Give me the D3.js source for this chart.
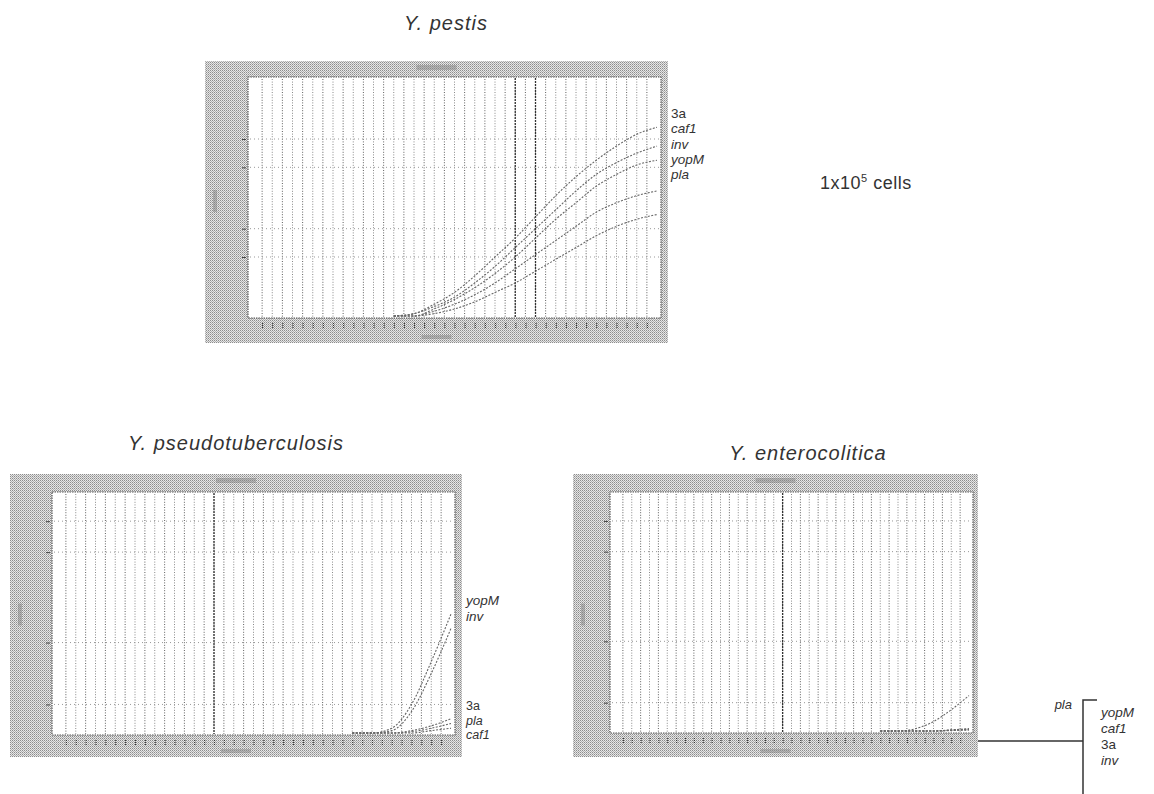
<!DOCTYPE html>
<html>
<head>
<meta charset="utf-8">
<script src="https://cdn.jsdelivr.net/npm/d3@7"></script>
<style>
  body { margin: 0; background: #fff; }
  text { font-family: "Liberation Sans", Arial, sans-serif; fill: #333; }
</style>
</head>
<body>
<svg id="chart" width="1154" height="794"></svg>
<script>
// ---- data (fluorescence, arbitrary 0..1, vs PCR cycle) ----
var pestisCycles = [14, 16, 18, 20, 22, 24, 26, 28, 30, 32, 34, 36, 38, 40];
var pestis3a   = [0, 0.01, 0.05, 0.10, 0.17, 0.25, 0.33, 0.42, 0.51, 0.59, 0.66, 0.72, 0.77, 0.80];
var pestisCaf1 = [0, 0.01, 0.04, 0.08, 0.14, 0.21, 0.29, 0.37, 0.45, 0.53, 0.60, 0.65, 0.69, 0.72];
var pestisInv  = [0, 0.00, 0.03, 0.07, 0.12, 0.18, 0.25, 0.33, 0.41, 0.48, 0.55, 0.60, 0.64, 0.66];
var pestisYopM = [0, 0.00, 0.02, 0.05, 0.09, 0.14, 0.20, 0.26, 0.32, 0.38, 0.44, 0.48, 0.51, 0.53];
var pestisPla  = [0, 0.00, 0.01, 0.03, 0.06, 0.10, 0.14, 0.19, 0.24, 0.29, 0.34, 0.38, 0.41, 0.43];

var lateCycles = [30, 32, 34, 36, 38, 40];
var pseudoYopM = [0, 0, 0.02, 0.12, 0.30, 0.50];
var pseudoInv  = [0, 0, 0.01, 0.09, 0.25, 0.44];
var pseudo3a   = [0, 0, 0, 0.01, 0.03, 0.06];
var pseudoPla  = [0, 0, 0, 0.005, 0.02, 0.04];
var pseudoCaf1 = [0, 0, 0, 0, 0.01, 0.02];

var enteroPla  = [0, 0, 0.01, 0.04, 0.09, 0.15];
var enteroYopM = [0, 0, 0, 0, 0.005, 0.01];
var enteroCaf1 = [0, 0, 0, 0, 0.004, 0.008];
var entero3a   = [0, 0, 0, 0, 0.003, 0.006];
var enteroInv  = [0, 0, 0, 0, 0.002, 0.004];

var gridCycles = [1,2,3,4,5,6,7,8,9,10,11,12,13,14,15,16,17,18,19,20,
                  21,22,23,24,25,26,27,28,29,30,31,32,33,34,35,36,37,38,39];
var pestisGridY = [0.25, 0.37, 0.63, 0.75];
var lowerGridY  = [0.12, 0.38, 0.76, 0.89];
var pestisMarks = [26, 28];
var pseudoMarks = [16];
var enteroMarks = [19];

var pestisLabels = ["3a", "caf1", "inv", "yopM", "pla"];
var pseudoLabelsTop = ["yopM", "inv"];
var pseudoLabelsBottom = ["3a", "pla", "caf1"];
var enteroLabels = ["yopM", "caf1", "3a", "inv"];

var svg = d3.select("#chart");
var defs = svg.append("defs");
var pat = defs.append("pattern").attr("id", "dither")
    .attr("width", 2).attr("height", 2).attr("patternUnits", "userSpaceOnUse");
pat.append("rect").attr("width", 2).attr("height", 2).attr("fill", "#e6e6e6");
pat.append("rect").attr("x", 0).attr("y", 0).attr("width", 1).attr("height", 1).attr("fill", "#8c8c8c");
pat.append("rect").attr("x", 1).attr("y", 1).attr("width", 1).attr("height", 1).attr("fill", "#b0b0b0");

var line = d3.line()
    .x(function (d) { return d.x; })
    .y(function (d) { return d.y; });

function drawPanel(p) {
  var g = svg.append("g");
  // gray frame of the instrument window
  g.append("rect").attr("x", p.ox).attr("y", p.oy).attr("width", p.ow).attr("height", p.oh)
    .attr("fill", "url(#dither)");
  // smudges where the illegible window title / axis labels are
  g.append("rect").attr("x", p.ox + p.ow / 2 - 20).attr("y", p.oy + 4).attr("width", 40).attr("height", 5)
    .attr("fill", "#888").attr("opacity", 0.5);
  g.append("rect").attr("x", p.ox + p.ow / 2 - 15).attr("y", p.oy + p.oh - 8).attr("width", 30).attr("height", 4)
    .attr("fill", "#888").attr("opacity", 0.5);
  g.append("rect").attr("x", p.ox + 8).attr("y", p.oy + p.oh / 2 - 12).attr("width", 4).attr("height", 22)
    .attr("fill", "#888").attr("opacity", 0.5);
  // white plot area
  g.append("rect").attr("x", p.px).attr("y", p.py).attr("width", p.pw).attr("height", p.ph)
    .attr("fill", "#fff").attr("stroke", "#555").attr("stroke-width", 1.2).attr("stroke-dasharray", "1.5,1");

  var x = d3.scaleLinear().domain([0, 40]).range([p.px + 4, p.px + p.pw - 4]);
  var y = d3.scaleLinear().domain([0, 1]).range([p.py + p.ph - 2, p.py + 3]);

  // bottom tick strip and left ticks
  g.append("g").attr("transform", "translate(0," + (p.py + p.ph + 5) + ")")
    .call(d3.axisBottom(x).tickValues(gridCycles).tickSize(5).tickFormat(""))
    .call(function (a) {
      a.select(".domain").remove();
      a.selectAll("line").attr("stroke", "#333").attr("stroke-width", 1.2).attr("stroke-dasharray", "1,1");
    });
  g.append("g").attr("transform", "translate(" + (p.px - 2) + ",0)")
    .call(d3.axisLeft(y).tickValues(p.gridY).tickSize(4).tickFormat(""))
    .call(function (a) {
      a.select(".domain").remove();
      a.selectAll("line").attr("stroke", "#444");
    });

  // vertical dotted gridlines, one per cycle
  g.selectAll(".vgrid").data(gridCycles).enter().append("line")
    .attr("x1", function (d) { return x(d); }).attr("x2", function (d) { return x(d); })
    .attr("y1", p.py + 2).attr("y2", p.py + p.ph - 1)
    .attr("stroke", function (d, i) { return i % 2 ? "#8a8a8a" : "#5f5f5f"; })
    .attr("stroke-width", 1).attr("stroke-dasharray", "1,1.6");
  // horizontal dotted gridlines
  g.selectAll(".hgrid").data(p.gridY).enter().append("line")
    .attr("x1", p.px + 2).attr("x2", p.px + p.pw - 2)
    .attr("y1", function (d) { return y(d); }).attr("y2", function (d) { return y(d); })
    .attr("stroke", "#999").attr("stroke-width", 1).attr("stroke-dasharray", "1,3");
  // darker marker lines
  g.selectAll(".mark").data(p.marks).enter().append("line")
    .attr("x1", function (d) { return x(d); }).attr("x2", function (d) { return x(d); })
    .attr("y1", p.py + 1).attr("y2", p.py + p.ph - 1)
    .attr("stroke", "#333").attr("stroke-width", 1.3).attr("stroke-dasharray", "2,1");

  // amplification curves
  p.series.forEach(function (s) {
    var pts = p.cycles.map(function (c, i) { return { x: x(c), y: y(s[i]) }; });
    g.append("path").attr("d", line.curve(d3.curveMonotoneX)(pts))
      .attr("fill", "none").attr("stroke", "#666").attr("stroke-width", 1.1)
      .attr("stroke-dasharray", "2,1.5");
  });

  // title
  svg.append("text").attr("x", p.tx).attr("y", p.ty)
    .attr("text-anchor", "middle").attr("font-size", 20).attr("letter-spacing", 1)
    .attr("font-style", "italic")
    .text(p.title);
  return { x: x, y: y };
}

function labelStack(names, x0, y0, step, size) {
  svg.selectAll(null).data(names).enter().append("text")
    .attr("x", x0).attr("y", function (d, i) { return y0 + i * step; })
    .attr("font-size", size)
    .attr("font-style", function (d) { return d === "3a" ? "normal" : "italic"; })
    .text(function (d) { return d; });
}

drawPanel({
  title: "Y. pestis", tx: 446, ty: 30, ox: 205, oy: 61, ow: 463, oh: 282,
  px: 248, py: 77, pw: 413, ph: 241,
  cycles: pestisCycles, series: [pestis3a, pestisCaf1, pestisInv, pestisYopM, pestisPla],
  gridY: pestisGridY, marks: pestisMarks
});
labelStack(pestisLabels, 671, 118, 15.3, 13.5);

var t = svg.append("text").attr("x", 820).attr("y", 189).attr("font-size", 18).attr("letter-spacing", 0.5);
t.append("tspan").text("1x10");
t.append("tspan").attr("dy", -7).attr("font-size", 11).text("5");
t.append("tspan").attr("dy", 7).text(" cells");

drawPanel({
  title: "Y. pseudotuberculosis", tx: 236, ty: 450, ox: 10, oy: 474, ow: 452, oh: 283,
  px: 52, py: 492, pw: 403, ph: 243,
  cycles: lateCycles, series: [pseudoYopM, pseudoInv, pseudo3a, pseudoPla, pseudoCaf1],
  gridY: lowerGridY, marks: pseudoMarks
});
labelStack(pseudoLabelsTop, 466, 605, 15.5, 13.5);
labelStack(pseudoLabelsBottom, 466, 710, 14.5, 12.5);

drawPanel({
  title: "Y. enterocolitica", tx: 808, ty: 460, ox: 573, oy: 474, ow: 405, oh: 283,
  px: 610, py: 492, pw: 363, ph: 241,
  cycles: lateCycles, series: [enteroPla, enteroYopM, enteroCaf1, entero3a, enteroInv],
  gridY: lowerGridY, marks: enteroMarks
});

// bracket grouping the flat curves of Y. enterocolitica
var br = svg.append("g").attr("stroke", "#333").attr("stroke-width", 1.5).attr("fill", "none");
br.append("path").attr("d", d3.line()([[978, 741], [1083, 741]]));
br.append("path").attr("d", d3.line()([[1097, 700], [1083, 700], [1083, 794]]));
svg.append("text").attr("x", 1072).attr("y", 709).attr("text-anchor", "end")
  .attr("font-size", 13).attr("font-style", "italic").text("pla");
labelStack(enteroLabels, 1101, 717, 16, 13.5);
</script>
</body>
</html>
